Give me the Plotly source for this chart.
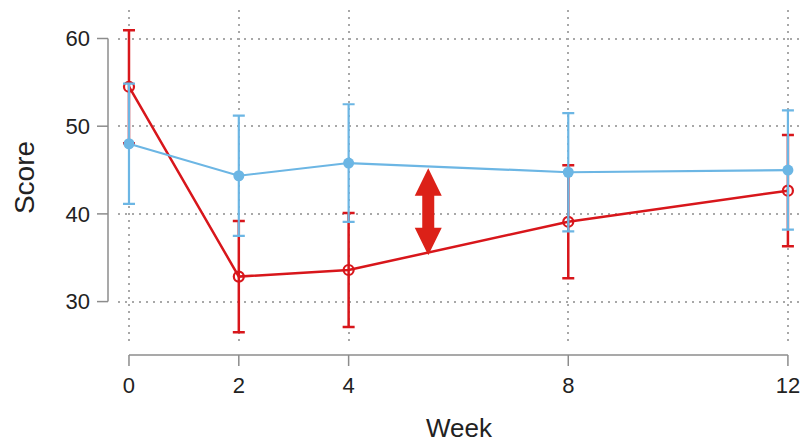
import plotly.graph_objects as go

weeks = [0, 2, 4, 8, 12]
week_labels = ["0", "2", "4", "8", "12"]
score_ticks = [30, 40, 50, 60]

blue_mean = [48.0, 44.35, 45.8, 44.75, 45.0]
blue_err = [6.85, 6.85, 6.7, 6.75, 6.8]

red_mean = [54.5, 32.85, 33.6, 39.1, 42.65]
red_err = [6.45, 6.35, 6.5, 6.45, 6.35]

arrow_week = 5.45
arrow_low, arrow_high = 35.3, 45.2

RED = "#D8161B"
BLUE = "#6CB6E4"
GRAY = "#8C8C8C"
FONT = "Liberation Sans, Arial, sans-serif"

fig = go.Figure()
fig.add_trace(go.Scatter(
    x=weeks, y=red_mean, mode="lines+markers",
    line=dict(color=RED, width=2.5),
    marker=dict(symbol="circle-open", size=10, color=RED, line=dict(width=2.2, color=RED)),
    error_y=dict(type="data", array=red_err, visible=True, color=RED, thickness=2.5, width=6),
    showlegend=False,
))
fig.add_trace(go.Scatter(
    x=weeks, y=blue_mean, mode="lines+markers",
    line=dict(color=BLUE, width=2.2),
    marker=dict(symbol="circle", size=11, color=BLUE),
    error_y=dict(type="data", array=blue_err, visible=True, color=BLUE, thickness=2.2, width=6),
    showlegend=False,
))

# double-headed arrow (pixel-sized, anchored in data space)
fig.add_shape(
    type="path", xref="x", yref="y",
    xsizemode="pixel", xanchor=arrow_week,
    ysizemode="pixel", yanchor=(arrow_low + arrow_high) / 2,
    path="M 0,43.5 L 13.5,16 L 6,16 L 6,-16 L 13.5,-16 L 0,-43.5 L -13.5,-16 L -6,-16 L -6,16 L -13.5,16 Z",
    fillcolor="#DC2118", line=dict(width=0),
)

# R-style offset axes
fig.add_shape(type="line", xref="paper", xsizemode="pixel", xanchor=0, x0=-10, x1=-10,
              yref="y", y0=min(score_ticks), y1=max(score_ticks), line=dict(color=GRAY, width=1.5))
for t in score_ticks:
    fig.add_shape(type="line", xref="paper", xsizemode="pixel", xanchor=0, x0=-10, x1=-21,
                  yref="y", y0=t, y1=t, line=dict(color=GRAY, width=1.5))
fig.add_shape(type="line", yref="paper", ysizemode="pixel", yanchor=0, y0=-10, y1=-10,
              xref="x", x0=min(weeks), x1=max(weeks), line=dict(color=GRAY, width=1.5))
for w in weeks:
    fig.add_shape(type="line", yref="paper", ysizemode="pixel", yanchor=0, y0=-10, y1=-21,
                  xref="x", x0=w, x1=w, line=dict(color=GRAY, width=1.5))

fig.update_layout(
    width=804, height=446,
    margin=dict(l=118, r=4, t=10, b=101),
    paper_bgcolor="white", plot_bgcolor="white",
    font=dict(family=FONT, color="#222222", size=22),
    xaxis=dict(
        range=[-0.2, 12.22], tickvals=weeks, ticktext=week_labels,
        showgrid=True, gridcolor="#A8A8A8", griddash="2px,5px", gridwidth=1.5,
        zeroline=False, showline=False, ticks="", automargin=False,
        ticklabelstandoff=25, ticklabeloverflow="allow",
        title=dict(text="Week", font=dict(size=26), standoff=21),
    ),
    yaxis=dict(
        range=[25.05, 63.25], tickvals=score_ticks,
        showgrid=True, gridcolor="#A8A8A8", griddash="2px,5px", gridwidth=1.5,
        zeroline=False, showline=False, ticks="", automargin=False,
        ticklabelstandoff=27,
        title=dict(text="Score", font=dict(size=28), standoff=22),
    ),
)

fig.write_html(
    "out.html",
    config={"displayModeBar": False},
    post_script="document.body.style.margin='0';document.body.style.overflow='hidden';",
)
